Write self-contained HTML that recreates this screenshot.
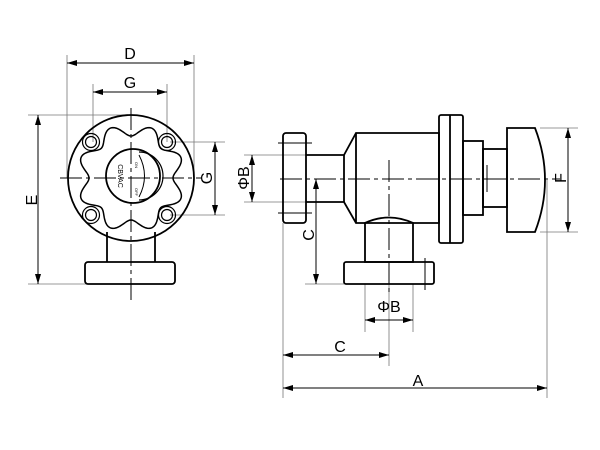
<!DOCTYPE html>
<html><head><meta charset="utf-8"><style>
html,body{margin:0;padding:0;background:#fff;width:600px;height:450px;overflow:hidden}
text{font-family:"Liberation Sans",sans-serif;fill:#000}
</style></head><body>
<svg id="s" width="600" height="450" viewBox="0 0 600 450" xmlns="http://www.w3.org/2000/svg">
<defs><marker id="a" viewBox="0 0 10 6" refX="10" refY="3" markerWidth="10" markerHeight="6" orient="auto-start-reverse" markerUnits="userSpaceOnUse"><path d="M0,0L10,3L0,6z" fill="#000"/></marker></defs>
<g stroke="#777" stroke-width="0.8" fill="none">
<line x1="67" y1="55" x2="67" y2="178"/><line x1="194" y1="55" x2="194" y2="178"/>
<line x1="93" y1="84" x2="93" y2="142"/><line x1="167" y1="84" x2="167" y2="142"/>
<line x1="28" y1="115" x2="131" y2="115"/><line x1="28" y1="284" x2="90" y2="284"/>
<line x1="170" y1="142" x2="225" y2="142"/><line x1="170" y1="215" x2="225" y2="215"/>
<line x1="244" y1="155" x2="306" y2="155"/><line x1="244" y1="202" x2="306" y2="202"/>
<line x1="283" y1="223" x2="283" y2="398"/><line x1="547" y1="180" x2="547" y2="398"/>
<line x1="305" y1="284" x2="344" y2="284"/>
<line x1="365" y1="284" x2="365" y2="332"/><line x1="413" y1="284" x2="413" y2="332"/>
<line x1="389" y1="284" x2="389" y2="366"/>
<line x1="540" y1="128" x2="578" y2="128"/><line x1="540" y1="232" x2="578" y2="232"/>
</g>
<g stroke="#000" stroke-width="1" fill="none" marker-start="url(#a)" marker-end="url(#a)">
<line x1="67" y1="63" x2="194" y2="63"/>
<line x1="93" y1="92" x2="167" y2="92"/>
<line x1="38" y1="115" x2="38" y2="284"/>
<line x1="215" y1="142" x2="215" y2="215"/>
<line x1="252" y1="155" x2="252" y2="202"/>
<line x1="316" y1="179" x2="316" y2="284"/>
<line x1="365" y1="320" x2="413" y2="320"/>
<line x1="283" y1="355" x2="389" y2="355"/>
<line x1="283" y1="388" x2="547" y2="388"/>
<line x1="568" y1="128" x2="568" y2="232"/>
</g>
<g stroke="#000" stroke-width="1.8" fill="none">
<circle cx="131" cy="178" r="63"/>
<path id="knob" stroke-width="1.5"/>
<circle cx="133" cy="176" r="27"/>
<path d="M139,152 A24,24 0 0 1 139,200" stroke-width="1.2"/>
<path d="M139,155 Q150,176 139,197" stroke-width="1"/>
<g stroke-width="1.2">
<circle cx="91" cy="142" r="8.5"/><circle cx="91" cy="142" r="5.5"/>
<circle cx="167" cy="142" r="8.5"/><circle cx="167" cy="142" r="5.5"/>
<circle cx="91" cy="215" r="8.5"/><circle cx="91" cy="215" r="5.5"/>
<circle cx="167" cy="215" r="8.5"/><circle cx="167" cy="215" r="5.5"/>
</g>
<line x1="107" y1="232" x2="107" y2="262"/><line x1="155" y1="232" x2="155" y2="262"/>
<rect x="85" y="262" width="90" height="22" rx="3"/>
<rect x="283" y="133" width="23" height="90" rx="3"/>
<path d="M306,155H344L356,133H439V223H356L344,202H306"/>
<line x1="344" y1="155" x2="344" y2="202"/><line x1="356" y1="133" x2="356" y2="223"/>
<rect x="439" y="115" width="24" height="128" rx="2"/><line x1="450" y1="115" x2="450" y2="243"/>
<rect x="463" y="141" width="20" height="74"/>
<rect x="483" y="149" width="24" height="58"/><line x1="487" y1="165" x2="487" y2="192" stroke-width="1"/>
<path d="M507,128H535Q555,180 535,232H507Z"/>
<path d="M365,223Q389,212 413,223V262H365Z"/>
<rect x="344" y="262" width="90" height="22" rx="2"/>
</g>
<g stroke="#000" stroke-width="1" fill="none" stroke-dasharray="22,4,4,4">
<line x1="60" y1="178" x2="202" y2="178"/>
<line x1="131" y1="108" x2="131" y2="300"/>
<line x1="280" y1="179" x2="560" y2="179"/>
<line x1="389" y1="160" x2="389" y2="295"/>
</g>
<g stroke="#000" stroke-width="1">
<line x1="278" y1="143" x2="312" y2="143"/><line x1="278" y1="213" x2="312" y2="213"/>
<line x1="425" y1="258" x2="425" y2="290"/>
</g>
<text x="130" y="59" font-size="16" text-anchor="middle">D</text>
<text x="130" y="88" font-size="16" text-anchor="middle">G</text>
<text x="31" y="206" font-size="16" text-anchor="middle" transform="rotate(-90 31 200)">E</text>
<text x="206" y="184" font-size="16" text-anchor="middle" transform="rotate(-90 206 178)">G</text>
<text x="243" y="184" font-size="16" text-anchor="middle" transform="rotate(-90 243 178)">ΦB</text>
<text x="308" y="241" font-size="16" text-anchor="middle" transform="rotate(-90 308 235)">C</text>
<text x="389" y="312" font-size="16" text-anchor="middle">ΦB</text>
<text x="340" y="352" font-size="16" text-anchor="middle">C</text>
<text x="418" y="386" font-size="16" text-anchor="middle">A</text>
<text x="560" y="184" font-size="16" text-anchor="middle" transform="rotate(-90 560 178)">F</text>
<text x="118" y="176" font-size="7" text-anchor="middle" transform="rotate(90 118 176)">CBVAC</text>
<text x="135" y="162" font-size="4" transform="rotate(90 135 162)">ON</text>
<text x="135" y="188" font-size="4" transform="rotate(90 135 188)">OFF</text>
</svg>
<script>
var d="",cx=131,cy=178;
for(var i=0;i<=200;i++){var t=i/200*Math.PI*2;var r=48-6*Math.cos(8*t);d+=(i?"L":"M")+(cx+r*Math.cos(t)).toFixed(2)+","+(cy+r*Math.sin(t)).toFixed(2);}
document.getElementById("knob").setAttribute("d",d+"Z");
</script>
</body></html>
